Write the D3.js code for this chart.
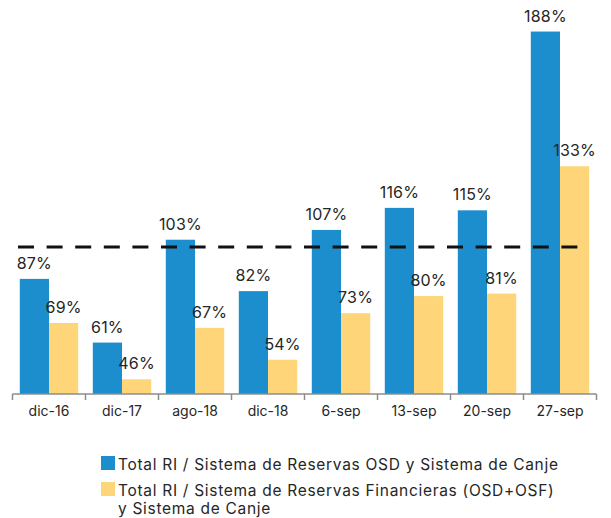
<!DOCTYPE html>
<html>
<head>
<meta charset="utf-8">
<script src="https://cdn.jsdelivr.net/npm/d3@7"></script>
<style>
  body { margin: 0; background: #fff; }
  svg text { font-family: "Inter", "Open Sans", sans-serif; fill: #262626; }
</style>
</head>
<body>
<div id="chart"></div>
<script>
// categories on the x axis
var categories = ["dic-16", "dic-17", "ago-18", "dic-18", "6-sep", "13-sep", "20-sep", "27-sep"];

// Total RI / Sistema de Reservas OSD y Sistema de Canje
var seriesOSD = [87, 61, 103, 82, 107, 116, 115, 188];

// Total RI / Sistema de Reservas Financieras (OSD+OSF) y Sistema de Canje
var seriesFin = [69, 46, 67, 54, 73, 80, 81, 133];

var seriesNames = [
    "Total RI / Sistema de Reservas OSD y Sistema de Canje",
    "Total RI / Sistema de Reservas Financieras (OSD+OSF)|y Sistema de Canje"
];
var reference = 100;   // dashed line

var colors = ["#1c8dcd", "#fed579"];

// size
var svgW = 611, svgH = 518;
var plot = {left: 12.5, right: 596.5, top: 2, bottom: 394};

var svg = d3.select("#chart").append("svg")
    .attr("width", svgW)
    .attr("height", svgH);

var x0 = d3.scaleBand()
    .domain(categories)
    .range([plot.left, plot.right])
    .padding(0);

var x1 = d3.scaleBand()
    .domain([0, 1])
    .range([0, x0.bandwidth()])
    .paddingInner(0)
    .paddingOuter(0.25);

// axis does not start at zero
var y = d3.scaleLinear()
    .domain([40, 200])
    .range([plot.bottom, plot.bottom - 160 * 2.449]);

var data = categories.map(function (c, i) {
    return {cat: c, values: [seriesOSD[i], seriesFin[i]]};
});

var groups = svg.selectAll("g.group")
    .data(data)
    .enter().append("g")
    .attr("class", "group")
    .attr("transform", function (d) { return "translate(" + x0(d.cat) + ",0)"; });

groups.selectAll("rect")
    .data(function (d) { return d.values.map(function (v, k) { return {k: k, v: v}; }); })
    .enter().append("rect")
    .attr("x", function (d) { return x1(d.k); })
    .attr("width", x1.bandwidth())
    .attr("y", function (d) { return y(d.v); })
    .attr("height", function (d) { return plot.bottom - y(d.v); })
    .attr("fill", function (d) { return colors[d.k]; });

groups.selectAll("text.val")
    .data(function (d) { return d.values.map(function (v, k) { return {k: k, v: v}; }); })
    .enter().append("text")
    .attr("class", "val")
    .attr("x", function (d) { return x1(d.k) + x1.bandwidth() / 2; })
    .attr("y", function (d) { return y(d.v) - 10; })
    .attr("text-anchor", "middle")
    .style("font-size", "16px")
    .style("letter-spacing", "0.2px")
    .text(function (d) { return d.v + "%"; });

// reference dashed line at 100%
svg.append("line")
    .attr("x1", 18).attr("x2", 590)
    .attr("y1", y(reference)).attr("y2", y(reference))
    .attr("stroke", "#111")
    .attr("stroke-width", 3)
    .attr("stroke-dasharray", "16,12.6");

// x axis
var xAxis = d3.axisBottom(x0).tickSize(0).tickPadding(12);
var gx = svg.append("g")
    .attr("transform", "translate(0," + plot.bottom + ")")
    .call(xAxis);
gx.select(".domain").attr("stroke", "#8c8c8c").attr("stroke-width", 1.5)
    .attr("d", "M" + plot.left + ",0H" + plot.right);
gx.selectAll(".tick text").style("font-size", "14px").style("font-family", null).attr("fill", "#262626");
// tick marks at band boundaries
var bounds = categories.map(function (c) { return x0(c); }).concat([plot.right]);
gx.selectAll("line.sep")
    .data(bounds)
    .enter().append("line")
    .attr("class", "sep")
    .attr("x1", function (d) { return d; }).attr("x2", function (d) { return d; })
    .attr("y1", 0).attr("y2", 6)
    .attr("stroke", "#8c8c8c")
    .attr("stroke-width", 1.5);

// legend
var legend = svg.append("g").attr("transform", "translate(101,456)");
var legendRows = [0, 26];
seriesNames.forEach(function (name, i) {
    var row = legend.append("g").attr("transform", "translate(0," + legendRows[i] + ")");
    row.append("rect")
        .attr("width", 14).attr("height", 14)
        .attr("fill", colors[i]);
    name.split("|").forEach(function (line, j) {
        row.append("text")
            .attr("x", 17)
            .attr("y", 13.5 + j * 18.8)
            .style("font-size", "15.5px")
            .style("letter-spacing", "0.7px")
            .text(line);
    });
});
</script>
</body>
</html>
